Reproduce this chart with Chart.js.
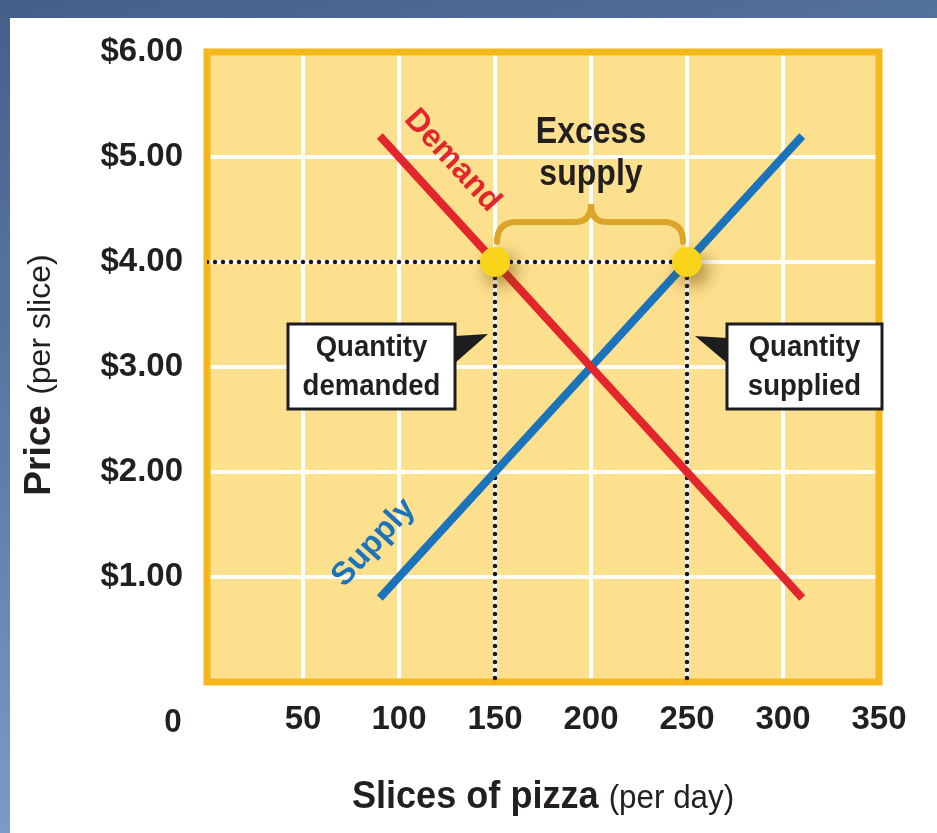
<!DOCTYPE html>
<html>
<head>
<meta charset="utf-8">
<script src="https://cdn.jsdelivr.net/npm/chart.js@4.4.0/dist/chart.umd.min.js"></script>
<style>
  html, body { margin: 0; padding: 0; }
  body {
    width: 937px; height: 833px; overflow: hidden; position: relative;
    background: linear-gradient(165deg, #465f8a 0%, #5f7eab 45%, #8eafdc 100%);
  }
  #panel { position: absolute; left: 10px; top: 18px; right: 0; bottom: 0; background: #fff; }
  canvas { position: absolute; left: 0; top: 0; }
</style>
</head>
<body>
<div id="panel"></div>
<canvas id="chart" width="937" height="833"></canvas>
<script>
// Data
const quantityTicks = [0, 50, 100, 150, 200, 250, 300, 350];
const priceTicks = [0, 1, 2, 3, 4, 5, 6];
const demandQty = [90, 310];
const demandPrice = [5.2, 0.8];
const supplyQty = [90, 310];
const supplyPrice = [0.8, 5.2];
const marketPrice = 4;
const qtyDemanded = 150;
const qtySupplied = 250;

const FONT = '"Liberation Sans", Arial, sans-serif';
const INK = '#231f20';
const RED = '#e3262b';
const BLUE = '#1b74bb';

const toPoints = (xs, ys) => xs.map((x, i) => ({ x: x, y: ys[i] }));

function txt(ctx, s, x, y, font, color, align, sx) {
    ctx.save();
    ctx.translate(x, y);
    ctx.scale(sx || 1, 1);
    ctx.font = font;
    ctx.fillStyle = color;
    ctx.textAlign = align || 'center';
    ctx.textBaseline = 'alphabetic';
    ctx.fillText(s, 0, 0);
    ctx.restore();
}

function labelBox(ctx, left, top, w, h, lines, tri) {
    ctx.save();
    ctx.fillStyle = '#1d1d1f';
    ctx.beginPath();
    ctx.moveTo(tri[0][0], tri[0][1]);
    ctx.lineTo(tri[1][0], tri[1][1]);
    ctx.lineTo(tri[2][0], tri[2][1]);
    ctx.closePath();
    ctx.fill();
    ctx.fillStyle = '#fff';
    ctx.fillRect(left, top, w, h);
    ctx.lineWidth = 3;
    ctx.strokeStyle = '#1d1d1f';
    ctx.strokeRect(left, top, w, h);
    ctx.restore();
    txt(ctx, lines[0], left + w / 2, top + 32, 'bold 29px ' + FONT, INK, 'center', 0.95);
    txt(ctx, lines[1], left + w / 2, top + 71, 'bold 29px ' + FONT, INK, 'center', 0.95);
}

const DOTS = 0;

const decor = {
    id: 'decor',
    beforeDraw(chart) {
        const { ctx, chartArea: a } = chart;
        ctx.save();
        ctx.fillStyle = '#fde08e';
        ctx.fillRect(a.left, a.top, a.right - a.left, a.bottom - a.top);
        ctx.restore();
    },
    beforeDatasetsDraw(chart) {
        const { ctx, chartArea: a } = chart;
        ctx.save();
        ctx.lineWidth = 7;
        ctx.strokeStyle = '#f4b81c';
        ctx.strokeRect(a.left, a.top, a.right - a.left, a.bottom - a.top);
        ctx.restore();
    },
    beforeDatasetDraw(chart, args) {
        if (args.index !== DOTS) return;
        const ctx = chart.ctx;
        ctx.save();
        ctx.shadowColor = 'rgba(110, 70, 0, 0.6)';
        ctx.shadowBlur = 18;
        ctx.shadowOffsetX = 6;
        ctx.shadowOffsetY = 8;
    },
    afterDatasetDraw(chart, args) {
        if (args.index === DOTS) chart.ctx.restore();
    },
    afterDatasetsDraw(chart) {
        const { ctx, chartArea: a } = chart;
        const xs = chart.scales.x, ys = chart.scales.y;
        const px = v => xs.getPixelForValue(v);
        const py = v => ys.getPixelForValue(v);

        // brace over the excess supply
        const x1 = px(qtyDemanded) + 2, x2 = px(qtySupplied) - 4, xm = px((qtyDemanded + qtySupplied) / 2);
        const yb = py(marketPrice) - 20, yh = py(marketPrice) - 40, yt = py(marketPrice) - 58;
        ctx.save();
        ctx.strokeStyle = '#dba52a';
        ctx.lineWidth = 6;
        ctx.lineCap = 'round';
        ctx.beginPath();
        ctx.moveTo(x1, yb);
        ctx.quadraticCurveTo(x1, yh, x1 + 20, yh);
        ctx.lineTo(xm - 16, yh);
        ctx.quadraticCurveTo(xm, yh, xm, yt);
        ctx.quadraticCurveTo(xm, yh, xm + 16, yh);
        ctx.lineTo(x2 - 20, yh);
        ctx.quadraticCurveTo(x2, yh, x2, yb);
        ctx.stroke();
        ctx.restore();

        txt(ctx, 'Excess', xm, yt - 61, 'bold 36px ' + FONT, INK, 'center', 0.89);
        txt(ctx, 'supply', xm, yt - 19, 'bold 36px ' + FONT, INK, 'center', 0.89);

        // curve labels, parallel to the lines
        const ang = Math.atan2(py(demandPrice[1]) - py(demandPrice[0]), px(demandQty[1]) - px(demandQty[0]));
        ctx.save();
        ctx.translate(px(128.6), py(4.98));
        ctx.rotate(ang);
        txt(ctx, 'Demand', 0, 11, 'bold 32px ' + FONT, RED, 'center', 1);
        ctx.restore();
        ctx.save();
        ctx.translate(px(86), py(1.34));
        ctx.rotate(-ang);
        txt(ctx, 'Supply', 0, 11, 'bold 32px ' + FONT, BLUE, 'center', 1);
        ctx.restore();

        // callout boxes
        const qdRight = px(qtyDemanded) - 40, boxTop = py(3) - 43;
        labelBox(ctx, qdRight - 167, boxTop, 167, 85, ['Quantity', 'demanded'],
            [[qdRight, boxTop + 12], [px(qtyDemanded) - 7, boxTop + 10], [qdRight, boxTop + 39]]);
        const qsLeft = px(qtySupplied) + 40;
        labelBox(ctx, qsLeft, boxTop, 155, 85, ['Quantity', 'supplied'],
            [[qsLeft, boxTop + 14], [px(qtySupplied) + 8, boxTop + 12], [qsLeft, boxTop + 39]]);

        // origin label sits left of the corner
        txt(ctx, '0', a.left - 34, a.bottom + 50, 'bold 33px ' + FONT, INK, 'center', 0.95);

        // axis titles
        ctx.save();
        ctx.font = 'bold 37px ' + FONT;
        const w1 = ctx.measureText('Price ').width;
        ctx.font = '32px ' + FONT;
        const w2 = ctx.measureText('(per slice)').width;
        ctx.translate(50, (a.top + a.bottom) / 2 + 8);
        ctx.rotate(-Math.PI / 2);
        txt(ctx, 'Price ', -(w1 + w2) / 2, 0, 'bold 37px ' + FONT, INK, 'left', 1);
        txt(ctx, '(per slice)', -(w1 + w2) / 2 + w1, 0, '32px ' + FONT, INK, 'left', 1);
        ctx.restore();

        ctx.save();
        ctx.font = 'bold 38px ' + FONT;
        const w3 = ctx.measureText('Slices of pizza ').width * 0.95;
        ctx.font = '33px ' + FONT;
        const w4 = ctx.measureText('(per day)').width * 0.95;
        const sx0 = (a.left + a.right) / 2 - (w3 + w4) / 2;
        txt(ctx, 'Slices of pizza ', sx0, 808, 'bold 38px ' + FONT, INK, 'left', 0.95);
        txt(ctx, '(per day)', sx0 + w3, 808, '33px ' + FONT, INK, 'left', 0.95);
        ctx.restore();
    }
};

const dotted = {
    borderColor: '#14142a',
    borderWidth: 4.5,
    borderDash: [0, 8],
    borderCapStyle: 'round',
    pointRadius: 0,
    showLine: true,
    order: 3
};

new Chart(document.getElementById('chart'), {
    type: 'scatter',
    data: {
        datasets: [
            {
                label: 'Price points',
                data: [{ x: qtyDemanded, y: marketPrice }, { x: qtySupplied, y: marketPrice }],
                pointRadius: 15,
                backgroundColor: '#f8d51a',
                borderWidth: 0,
                order: 0
            },
            {
                label: 'Demand',
                data: toPoints(demandQty, demandPrice),
                borderColor: RED,
                borderWidth: 8,
                pointRadius: 0,
                showLine: true,
                order: 1
            },
            {
                label: 'Supply',
                data: toPoints(supplyQty, supplyPrice),
                borderColor: BLUE,
                borderWidth: 8,
                pointRadius: 0,
                showLine: true,
                order: 2
            },
            Object.assign({ label: 'Price line', data: [{ x: quantityTicks[0], y: marketPrice }, { x: qtySupplied, y: marketPrice }] }, dotted),
            Object.assign({ label: 'Qd line', data: [{ x: qtyDemanded, y: marketPrice }, { x: qtyDemanded, y: priceTicks[0] }] }, dotted),
            Object.assign({ label: 'Qs line', data: [{ x: qtySupplied, y: marketPrice }, { x: qtySupplied, y: priceTicks[0] }] }, dotted)
        ]
    },
    options: {
        responsive: false,
        animation: false,
        events: [],
        layout: { padding: { top: 52, right: 58, left: 0, bottom: 0 } },
        plugins: { legend: { display: false }, tooltip: { enabled: false } },
        scales: {
            x: {
                type: 'linear',
                min: quantityTicks[0],
                max: quantityTicks[quantityTicks.length - 1],
                afterBuildTicks: s => { s.ticks = quantityTicks.map(v => ({ value: v })); },
                ticks: {
                    padding: 18,
                    color: INK,
                    maxRotation: 0,
                    autoSkip: false,
                    font: { family: FONT, size: 33, weight: 'bold' },
                    callback: v => v === 0 ? '' : String(v)
                },
                grid: { color: '#ffffff', lineWidth: 4, drawTicks: false },
                border: { display: false },
                afterFit: s => { s.height = 151; }
            },
            y: {
                min: priceTicks[0],
                max: priceTicks[priceTicks.length - 1],
                afterBuildTicks: s => { s.ticks = priceTicks.map(v => ({ value: v })); },
                ticks: {
                    padding: 24,
                    color: INK,
                    autoSkip: false,
                    font: { family: FONT, size: 33, weight: 'bold' },
                    callback: v => v === 0 ? '' : '$' + v.toFixed(2)
                },
                grid: { color: '#ffffff', lineWidth: 4, drawTicks: false },
                border: { display: false },
                afterFit: s => { s.width = 207; }
            }
        }
    },
    plugins: [decor]
});
</script>
</body>
</html>
